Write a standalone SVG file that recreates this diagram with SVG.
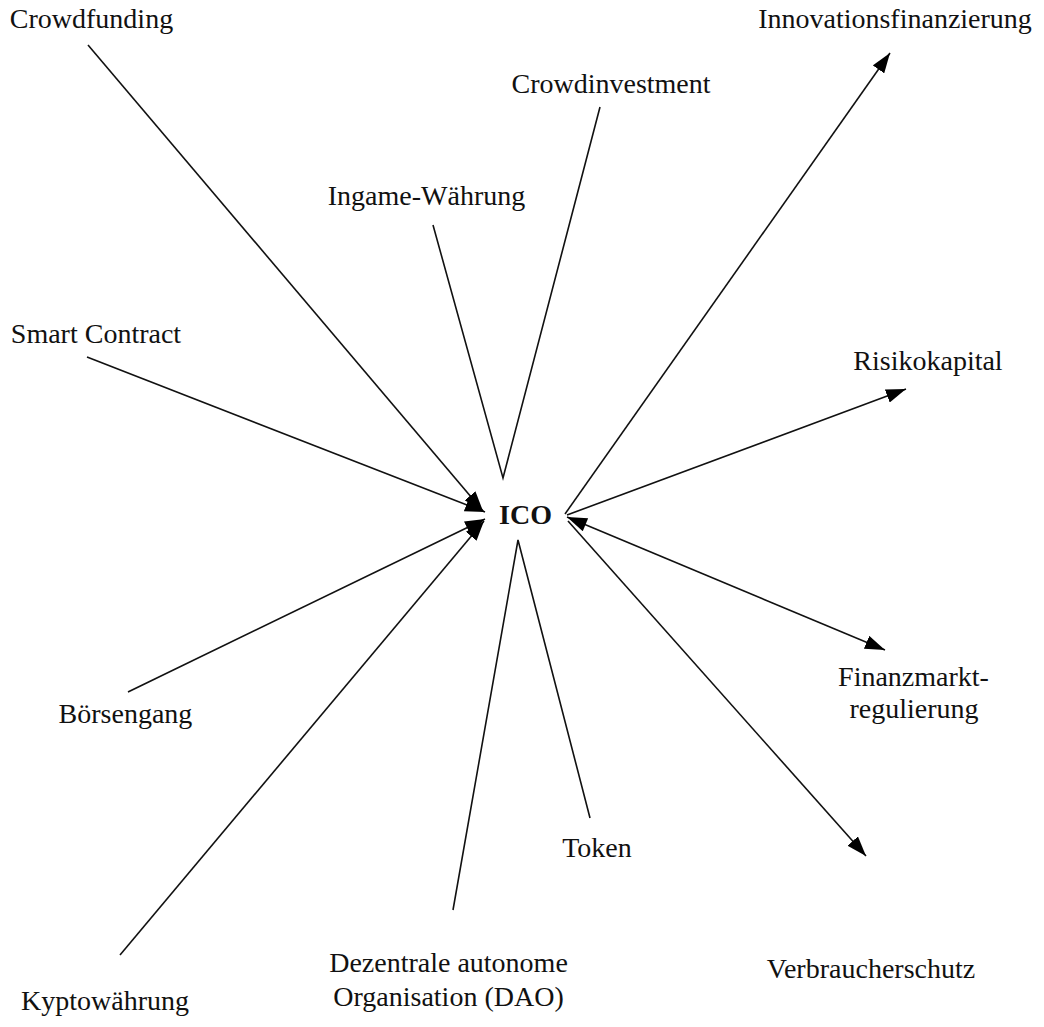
<svg xmlns="http://www.w3.org/2000/svg" width="1044" height="1027" viewBox="0 0 1044 1027">
<style>
.lbl{font-family:"Liberation Serif","Times New Roman",Times,serif;font-size:28px;fill:#111;text-anchor:middle}
.bold{font-weight:bold}
.ln{stroke:#111;stroke-width:1.6;fill:none}
</style>
<defs>
<marker id="ah" markerUnits="userSpaceOnUse" markerWidth="22" markerHeight="14" refX="20" refY="7" orient="auto">
<path d="M0,0 L20,7 L0,14 Z" fill="#000"/>
</marker>
<marker id="ahs" markerUnits="userSpaceOnUse" markerWidth="22" markerHeight="14" refX="0" refY="7" orient="auto">
<path d="M20,0 L0,7 L20,14 Z" fill="#000"/>
</marker>
</defs>
<rect width="1044" height="1027" fill="#fff"/>
<g id="connectors">
<line class="ln" x1="88" y1="45" x2="483" y2="511" marker-end="url(#ah)"/>
<line class="ln" x1="87" y1="357" x2="485" y2="512" marker-end="url(#ah)"/>
<line class="ln" x1="128" y1="692" x2="485" y2="519" marker-end="url(#ah)"/>
<line class="ln" x1="120" y1="955" x2="484" y2="521" marker-end="url(#ah)"/>
<polyline class="ln" points="433,225 503,478 600,107"/>
<polyline class="ln" points="453,910 518,540 590,818"/>
<line class="ln" x1="565" y1="514" x2="890" y2="53" marker-end="url(#ah)"/>
<line class="ln" x1="567" y1="515" x2="906" y2="389" marker-end="url(#ah)"/>
<line class="ln" x1="567" y1="517" x2="885" y2="650" marker-start="url(#ahs)" marker-end="url(#ah)"/>
<line class="ln" x1="568" y1="521" x2="866" y2="856" marker-end="url(#ah)"/>
</g>
<g id="n-ico"><text class="lbl bold" x="525.5" y="524">ICO</text></g>
<g id="n-crowdfunding"><text class="lbl" x="91.5" y="28">Crowdfunding</text></g>
<g id="n-innovationsfinanzierung"><text class="lbl" x="895" y="28">Innovationsfinanzierung</text></g>
<g id="n-crowdinvestment"><text class="lbl" x="611" y="93">Crowdinvestment</text></g>
<g id="n-ingame"><text class="lbl" x="426.5" y="205">Ingame-Währung</text></g>
<g id="n-smartcontract"><text class="lbl" x="96" y="343">Smart Contract</text></g>
<g id="n-risikokapital"><text class="lbl" x="928" y="370">Risikokapital</text></g>
<g id="n-finanzmarkt"><text class="lbl" x="913.5" y="686">Finanzmarkt-</text><text class="lbl" x="914" y="718">regulierung</text></g>
<g id="n-boersengang"><text class="lbl" x="125.5" y="723">Börsengang</text></g>
<g id="n-token"><text class="lbl" x="597" y="857">Token</text></g>
<g id="n-verbraucherschutz"><text class="lbl" x="871" y="978">Verbraucherschutz</text></g>
<g id="n-dao"><text class="lbl" x="448.5" y="972">Dezentrale autonome</text><text class="lbl" x="448.5" y="1006">Organisation (DAO)</text></g>
<g id="n-kyptowaehrung"><text class="lbl" x="105" y="1010">Kyptowährung</text></g>
</svg>
